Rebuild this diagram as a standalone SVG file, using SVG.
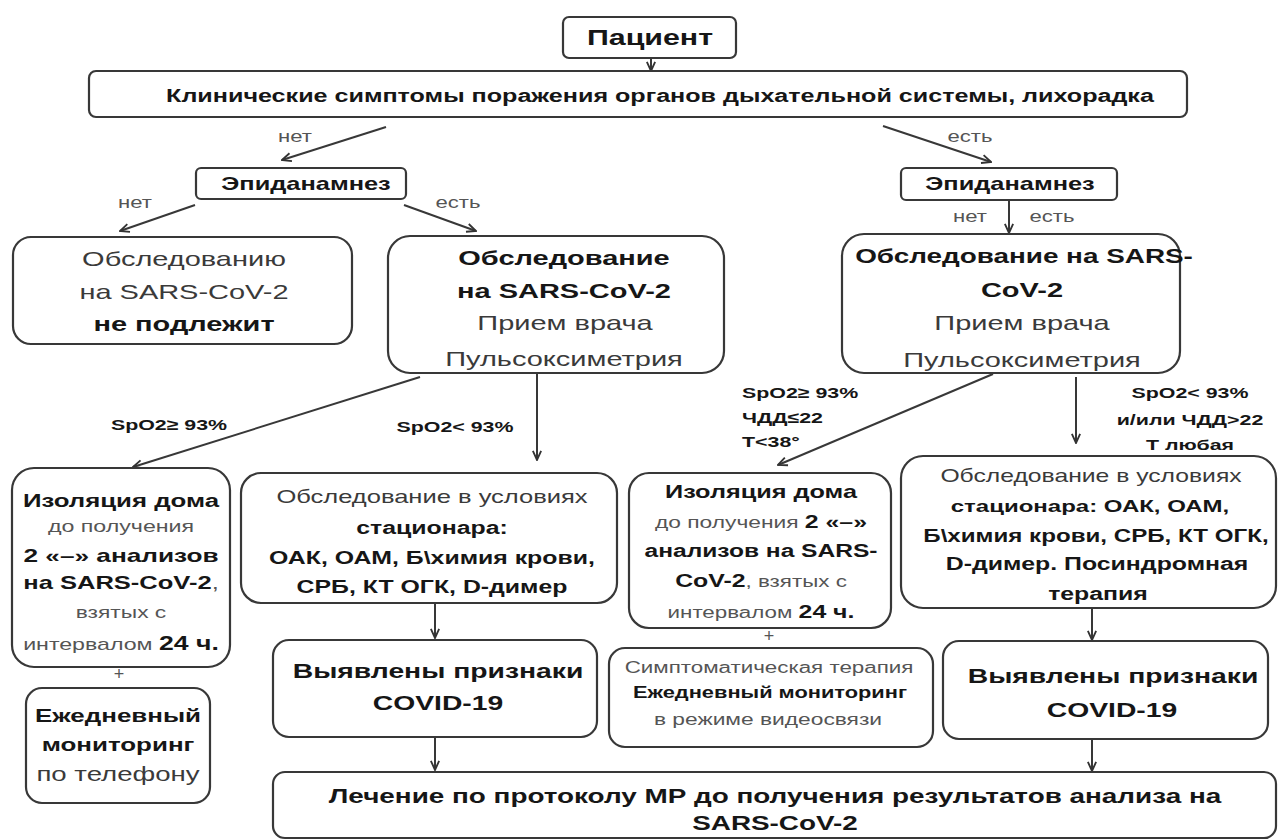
<svg xmlns="http://www.w3.org/2000/svg" width="1280" height="840" viewBox="0 0 1280 840">
<defs>
<marker id="ah" viewBox="0 0 12 12" refX="11" refY="6" markerWidth="11" markerHeight="11" markerUnits="userSpaceOnUse" orient="auto">
<path d="M1,1.5 L11,6 L1,10.5" fill="none" stroke="#333" stroke-width="2"/>
</marker>
</defs>
<style>
text{font-family:"Liberation Sans",Arial,sans-serif;text-anchor:middle;fill:#3a3a3a}
.b{font-weight:bold;fill:#161616}
.r{fill:#3a3a3a}
.g{fill:#555}
.st{text-anchor:start}
.box{fill:#fff;stroke:#383838;stroke-width:2.2}
.c line{stroke:#383838;stroke-width:2;fill:none;marker-end:url(#ah)}
</style>
<rect width="1280" height="840" fill="#fff"/>

<g class="c" id="connectors">
<line x1="651" y1="58" x2="651" y2="71"/>
<line x1="386" y1="127" x2="282" y2="160"/>
<line x1="883" y1="126" x2="991" y2="162"/>
<line x1="195" y1="205" x2="120" y2="231"/>
<line x1="404" y1="205" x2="476" y2="231"/>
<line x1="1009" y1="201" x2="1009" y2="233"/>
<line x1="420" y1="377" x2="133" y2="467"/>
<line x1="537" y1="374" x2="537" y2="460"/>
<line x1="993" y1="374" x2="778" y2="465"/>
<line x1="1076" y1="377" x2="1076" y2="443"/>
<line x1="435" y1="603" x2="435" y2="638"/>
<line x1="435" y1="738" x2="435" y2="770"/>
<line x1="1092" y1="609" x2="1092" y2="640"/>
<line x1="1092" y1="739" x2="1092" y2="771"/>
</g>

<g id="labels">
<text class="g" transform="translate(295 142) scale(1.38 1)" style="font-size:16px">нет</text>
<text class="g" transform="translate(970 142) scale(1.38 1)" style="font-size:16px">есть</text>
<text class="g" transform="translate(135 208) scale(1.38 1)" style="font-size:16px">нет</text>
<text class="g" transform="translate(458 208) scale(1.38 1)" style="font-size:16px">есть</text>
<text class="g" transform="translate(970 222) scale(1.38 1)" style="font-size:16px">нет</text>
<text class="g" transform="translate(1052 222) scale(1.38 1)" style="font-size:16px">есть</text>
<text class="b" transform="translate(169 430) scale(1.38 1)" style="font-size:15.5px">SpO2≥ 93%</text>
<text class="b" transform="translate(455 432) scale(1.38 1)" style="font-size:15.5px">SpO2&lt; 93%</text>
<text class="b st" transform="translate(742 398) scale(1.38 1)" style="font-size:15.5px">SpO2≥ 93%</text>
<text class="b st" transform="translate(742 423) scale(1.38 1)" style="font-size:15.5px">ЧДД≤22</text>
<text class="b st" transform="translate(742 447) scale(1.38 1)" style="font-size:15.5px">T&lt;38°</text>
<text class="b" transform="translate(1190 398) scale(1.38 1)" style="font-size:15.5px">SpO2&lt; 93%</text>
<text class="b" transform="translate(1190 425) scale(1.38 1)" style="font-size:15.5px">и/или ЧДД&gt;22</text>
<text class="b" transform="translate(1190 450) scale(1.38 1)" style="font-size:15.5px">Т любая</text>
<text class="g" x="119" y="680" style="font-size:18px">+</text>
<text class="g" x="769" y="642" style="font-size:18px">+</text>
</g>

<g id="patient">
<rect class="box" x="563" y="17" width="173" height="41" rx="6"/>
<text class="b" transform="translate(650 45) scale(1.38 1)" style="font-size:22px">Пациент</text>
</g>

<g id="symptoms">
<rect class="box" x="89" y="71" width="1098" height="46" rx="7"/>
<text class="b" transform="translate(660 102) scale(1.38 1)" style="font-size:18.2px">Клинические симптомы поражения органов дыхательной системы, лихорадка</text>
</g>

<g id="epid-left">
<rect class="box" x="196" y="168" width="210" height="31" rx="5"/>
<text class="b" transform="translate(306 190) scale(1.38 1)" style="font-size:18.4px">Эпиданамнез</text>
</g>

<g id="epid-right">
<rect class="box" x="901" y="168" width="216" height="32" rx="5"/>
<text class="b" transform="translate(1010 190) scale(1.38 1)" style="font-size:18.4px">Эпиданамнез</text>
</g>

<g id="no-test">
<rect class="box" x="13" y="237" width="339" height="107" rx="18"/>
<text class="r" transform="translate(184 266) scale(1.38 1)" style="font-size:21px">Обследованию</text>
<text class="r" transform="translate(184 299) scale(1.38 1)" style="font-size:21px">на SARS-CoV-2</text>
<text class="b" transform="translate(184 331) scale(1.38 1)" style="font-size:21px">не подлежит</text>
</g>

<g id="test-left">
<rect class="box" x="388" y="236" width="336" height="137" rx="22"/>
<text class="b" transform="translate(564 265) scale(1.38 1)" style="font-size:21px">Обследование</text>
<text class="b" transform="translate(564 298) scale(1.38 1)" style="font-size:21px">на SARS-CoV-2</text>
<text class="r" transform="translate(565 330) scale(1.38 1)" style="font-size:21px">Прием врача</text>
<text class="r" transform="translate(564 366) scale(1.38 1)" style="font-size:21px">Пульсоксиметрия</text>
</g>

<g id="test-right">
<rect class="box" x="842" y="234" width="338" height="139" rx="22"/>
<text class="b" transform="translate(1024 263) scale(1.38 1)" style="font-size:20.2px">Обследование на SARS-</text>
<text class="b" transform="translate(1022 297) scale(1.38 1)" style="font-size:21px">CoV-2</text>
<text class="r" transform="translate(1022 330) scale(1.38 1)" style="font-size:21px">Прием врача</text>
<text class="r" transform="translate(1022 367) scale(1.38 1)" style="font-size:21px">Пульсоксиметрия</text>
</g>

<g id="isolation-left">
<rect class="box" x="12" y="468" width="218" height="199" rx="22"/>
<text class="b" transform="translate(121 507) scale(1.38 1)" style="font-size:18.7px">Изоляция дома</text>
<text class="g" transform="translate(121 532) scale(1.38 1)" style="font-size:16.8px">до получения</text>
<text class="b" transform="translate(121 562) scale(1.38 1)" style="font-size:19px">2 «–» анализов</text>
<text class="b" transform="translate(121 589) scale(1.38 1)" style="font-size:18.5px">на SARS-CoV-2<tspan class="g" style="font-weight:normal">,</tspan></text>
<text class="g" transform="translate(121 618) scale(1.38 1)" style="font-size:16.5px">взятых с</text>
<text class="g" transform="translate(121 650) scale(1.38 1)" style="font-size:16.8px">интервалом <tspan class="b" style="font-size:19.3px">24 ч.</tspan></text>
</g>

<g id="monitor-phone">
<rect class="box" x="26" y="688" width="184" height="115" rx="16"/>
<text class="b" transform="translate(118 722) scale(1.38 1)" style="font-size:18.8px">Ежедневный</text>
<text class="b" transform="translate(118 751) scale(1.38 1)" style="font-size:18.8px">мониторинг</text>
<text class="r" transform="translate(118 781) scale(1.38 1)" style="font-size:20px">по телефону</text>
</g>

<g id="hospital-left">
<rect class="box" x="241" y="473" width="376" height="130" rx="20"/>
<text class="r" transform="translate(432 503) scale(1.38 1)" style="font-size:18.5px">Обследование в условиях</text>
<text class="b" transform="translate(432 534) scale(1.38 1)" style="font-size:18px">стационара:</text>
<text class="b" transform="translate(432 564) scale(1.38 1)" style="font-size:18px">ОАК, ОАМ, Б\химия крови,</text>
<text class="b" transform="translate(432 593) scale(1.38 1)" style="font-size:18px">СРБ, КТ ОГК, D-димер</text>
</g>

<g id="covid-left">
<rect class="box" x="273" y="640" width="324" height="97" rx="16"/>
<text class="b" transform="translate(438 678) scale(1.38 1)" style="font-size:20.5px">Выявлены признаки</text>
<text class="b" transform="translate(438 710) scale(1.38 1)" style="font-size:20.5px">COVID-19</text>
</g>

<g id="isolation-right">
<rect class="box" x="629" y="473" width="262" height="155" rx="20"/>
<text class="b" transform="translate(761 498) scale(1.38 1)" style="font-size:18.3px">Изоляция дома</text>
<text class="g" transform="translate(761 528) scale(1.38 1)" style="font-size:16.5px">до получения <tspan class="b" style="font-size:18px">2 «–»</tspan></text>
<text class="b" transform="translate(761 557) scale(1.38 1)" style="font-size:17.8px">анализов на SARS-</text>
<text class="b" transform="translate(761 587) scale(1.38 1)" style="font-size:18px">CoV-2<tspan class="g" style="font-weight:normal;font-size:16.2px">, взятых с</tspan></text>
<text class="g" transform="translate(761 618) scale(1.38 1)" style="font-size:16.2px">интервалом <tspan class="b" style="font-size:18px">24 ч.</tspan></text>
</g>

<g id="symptomatic">
<rect class="box" x="609" y="648" width="324" height="99" rx="16"/>
<text class="g" transform="translate(769 673) scale(1.38 1)" style="font-size:16.2px">Симптоматическая терапия</text>
<text class="b" transform="translate(770 698) scale(1.38 1)" style="font-size:15.8px">Ежедневный мониторинг</text>
<text class="g" transform="translate(768 725) scale(1.38 1)" style="font-size:16.5px">в режиме видеосвязи</text>
</g>

<g id="hospital-right">
<rect class="box" x="901" y="456" width="375" height="152" rx="22"/>
<text class="r" transform="translate(1091 482) scale(1.38 1)" style="font-size:17.9px">Обследование в условиях</text>
<text class="b" transform="translate(1090 512) scale(1.38 1)" style="font-size:17.4px">стационара: ОАК, ОАМ,</text>
<text class="b" transform="translate(1096 542) scale(1.38 1)" style="font-size:17.5px">Б\химия крови, СРБ, КТ ОГК,</text>
<text class="b" transform="translate(1097 570) scale(1.38 1)" style="font-size:18px">D-димер. Посиндромная</text>
<text class="b" transform="translate(1098 600) scale(1.38 1)" style="font-size:18px">терапия</text>
</g>

<g id="covid-right">
<rect class="box" x="943" y="641" width="325" height="98" rx="16"/>
<text class="b" transform="translate(1113 683) scale(1.38 1)" style="font-size:20.5px">Выявлены признаки</text>
<text class="b" transform="translate(1112 717) scale(1.38 1)" style="font-size:20.5px">COVID-19</text>
</g>

<g id="treatment">
<rect class="box" x="273" y="772" width="1003" height="66" rx="12"/>
<text class="b" transform="translate(775 803) scale(1.38 1)" style="font-size:20.2px">Лечение по протоколу МР до получения результатов анализа на</text>
<text class="b" transform="translate(775 830) scale(1.38 1)" style="font-size:20.2px">SARS-CoV-2</text>
</g>
</svg>
